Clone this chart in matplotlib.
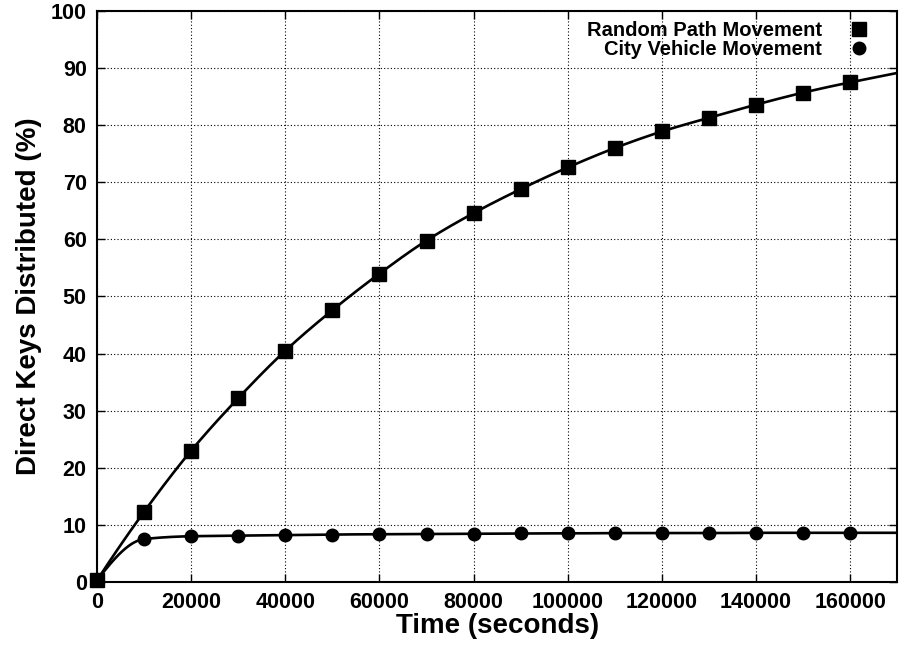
import numpy as np
import matplotlib
matplotlib.use("Agg")
import matplotlib.pyplot as plt

time_s = [0, 10000, 20000, 30000, 40000, 50000, 60000, 70000, 80000,
          90000, 100000, 110000, 120000, 130000, 140000, 150000, 160000]
random_path = [0.3, 12.3, 23.0, 32.2, 40.5, 47.6, 54.0, 59.8, 64.6,
               68.8, 72.6, 76.0, 78.9, 81.3, 83.6, 85.7, 87.5]
city_vehicle = [0.3, 7.5, 8.0, 8.1, 8.2, 8.3, 8.35, 8.4, 8.45,
                8.5, 8.5, 8.55, 8.55, 8.55, 8.6, 8.6, 8.6]
labels = ["Random Path Movement", "City Vehicle Movement"]
xticks = list(range(0, 160001, 20000))
yticks = list(range(0, 101, 10))

plt.rcParams['font.family'] = ['Liberation Sans', 'DejaVu Sans']
plt.rcParams['font.weight'] = 'bold'


def pchip_slopes(x, y):
    h = np.diff(x)
    delta = np.diff(y) / h
    n = len(x)
    d = np.zeros(n)
    for k in range(1, n - 1):
        if delta[k - 1] * delta[k] > 0:
            w1 = 2 * h[k] + h[k - 1]
            w2 = h[k] + 2 * h[k - 1]
            d[k] = (w1 + w2) / (w1 / delta[k - 1] + w2 / delta[k])
    def end(h0, h1, del0, del1):
        dd = ((2 * h0 + h1) * del0 - h0 * del1) / (h0 + h1)
        if np.sign(dd) != np.sign(del0):
            dd = 0.0
        elif np.sign(del0) != np.sign(del1) and abs(dd) > abs(3 * del0):
            dd = 3 * del0
        return dd
    d[0] = end(h[0], h[1], delta[0], delta[1])
    d[-1] = end(h[-1], h[-2], delta[-1], delta[-2])
    return d


def smooth_curve(x, y, xmax, n=1200):
    x = np.asarray(x, float); y = np.asarray(y, float)
    d = pchip_slopes(x, y)
    xs = np.linspace(x[0], xmax, n)
    ys = np.empty_like(xs)
    for i, xv in enumerate(xs):
        if xv >= x[-1]:
            ys[i] = y[-1] + d[-1] * (xv - x[-1])
            continue
        k = min(np.searchsorted(x, xv, side='right') - 1, len(x) - 2)
        hk = x[k + 1] - x[k]
        t = (xv - x[k]) / hk
        h00 = 2 * t**3 - 3 * t**2 + 1
        h10 = t**3 - 2 * t**2 + t
        h01 = -2 * t**3 + 3 * t**2
        h11 = t**3 - t**2
        ys[i] = h00 * y[k] + h10 * hk * d[k] + h01 * y[k + 1] + h11 * hk * d[k + 1]
    return xs, ys


fig = plt.figure(figsize=(8.99, 6.48), dpi=100)
ax = fig.add_axes([0.108, 0.102, 0.89, 0.881])

XMAX = 170000
for y, m, ms, lab in [(random_path, 's', 10, labels[0]),
                      (city_vehicle, 'o', 9, labels[1])]:
    xs, ys = smooth_curve(time_s, y, XMAX)
    ax.plot(xs, ys, color='black', lw=1.9, zorder=3)
    ax.plot(time_s, y, linestyle='none', marker=m, color='black',
            markersize=ms, label=lab, zorder=4, clip_on=False)

ax.set_xlim(0, XMAX)
ax.set_ylim(0, 100)
ax.set_xticks(xticks)
ax.set_yticks(yticks)
ax.tick_params(direction='in', top=True, right=True, length=6, width=1,
               labelsize=15.5, pad=7.5)
for lbl in ax.get_xticklabels() + ax.get_yticklabels():
    lbl.set_fontweight('bold')
ax.grid(True, linestyle=(0, (1, 2)), color='black', lw=0.8)
for s in ax.spines.values():
    s.set_linewidth(1.5)
ax.set_xlabel("Time (seconds)", fontsize=20, fontweight='bold', labelpad=0)
ax.set_ylabel("Direct Keys Distributed (%)", fontsize=20, fontweight='bold', labelpad=6)

leg = ax.legend(loc='upper right', bbox_to_anchor=(0.97, 0.989),
                frameon=False, markerfirst=False,
                prop={'size': 14.5, 'weight': 'bold'}, handlelength=1.0,
                handletextpad=1.35, labelspacing=-0.02, borderaxespad=0.0,
                borderpad=0.2)
for t in leg.get_texts():
    t.set_ha('right')

fig.savefig("out.png", dpi=100)
